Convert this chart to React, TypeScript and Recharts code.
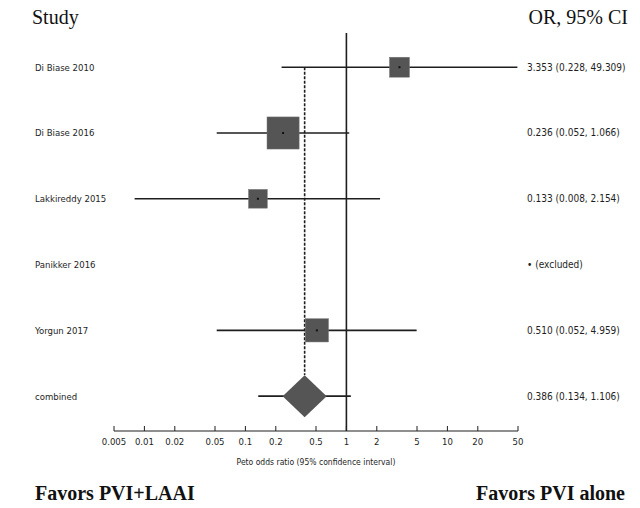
import React from 'react';
import { ComposedChart, Scatter, XAxis, YAxis, ReferenceLine } from 'recharts';

const studies = ['Di Biase 2010', 'Di Biase 2016', 'Lakkireddy 2015', 'Panikker 2016', 'Yorgun 2017', 'combined'];
const oddsRatios = [3.353, 0.236, 0.133, null, 0.51, 0.386];
const ciLow = [0.228, 0.052, 0.008, null, 0.052, 0.134];
const ciHigh = [49.309, 1.066, 2.154, null, 4.959, 1.106];
const weights = [17, 44, 15, null, 23, 100];
const xTicks = [0.005, 0.01, 0.02, 0.05, 0.1, 0.2, 0.5, 1, 2, 5, 10, 20, 50];

const pooled = oddsRatios[5] as number;
const rows = studies.map((s, i) => i);

const data = studies
  .map((name, i) => ({ name, x: oddsRatios[i], y: i, w: weights[i], pooled: i === 5 }))
  .filter((d) => d.x !== null);

const orText = studies.map((s, i) =>
  oddsRatios[i] === null
    ? '\u2022 (excluded)'
    : `${(oddsRatios[i] as number).toFixed(3)} (${(ciLow[i] as number).toFixed(3)}, ${(ciHigh[i] as number).toFixed(3)})`
);

const small = '"DejaVu Sans Condensed", "DejaVu Sans", sans-serif';
const serif = '"Liberation Serif", "Times New Roman", serif';
const ink = '#1e1e1e';
const fill = '#555';

const Marker = (props: any) => {
  const { cx, cy, payload } = props;
  if (payload.pooled) {
    const hw = 22;
    const hh = 21;
    return (
      <path d={`M${cx - hw},${cy} L${cx},${cy - hh} L${cx + hw},${cy} L${cx},${cy + hh} Z`} fill={fill} />
    );
  }
  const side = Math.sqrt(payload.w) * 4.84;
  return (
    <g>
      <rect x={cx - side / 2} y={cy - side / 2} width={side} height={side} fill={fill} stroke="#777" strokeWidth={0.5} />
      <rect x={cx - 1} y={cy - 1} width={2} height={2} fill="#111" />
    </g>
  );
};

// study name on the left, OR text on the right, same row
const RowTick = (props: any) => {
  const { y, payload } = props;
  return (
    <g>
      <text x={35} y={y} dy={3.5} fontFamily={small} fontSize={9.5} fill={ink} textAnchor="start">
        {studies[payload.value]}
      </text>
      <text x={527} y={y} dy={3.5} fontFamily={small} fontSize={10} fill={ink} textAnchor="start">
        {orText[payload.value]}
      </text>
    </g>
  );
};

const XTick = (props: any) => {
  const { x, y, payload } = props;
  return (
    <g>
      <line x1={x} x2={x} y1={y - 5} y2={y} stroke={ink} strokeWidth={1} />
      <text x={x} y={y + 14} fontFamily={small} fontSize={9.5} fill={ink} textAnchor="middle">
        {payload.value}
      </text>
    </g>
  );
};

const App: React.FC = () => {
  return (
    <div style={{ position: 'absolute', left: 0, top: 0, width: 640, height: 508, background: '#fff' }}>
      <ComposedChart width={640} height={508} margin={{ top: 33, right: 122, bottom: 47, left: 14 }}>
        <XAxis
          type="number"
          dataKey="x"
          scale="log"
          domain={[0.005, 50]}
          ticks={xTicks}
          interval={0}
          allowDataOverflow
          height={30}
          tickSize={0}
          tickMargin={0}
          tickLine={false}
          axisLine={{ stroke: ink, strokeWidth: 1 }}
          tick={<XTick />}
        />
        <YAxis
          yAxisId="l"
          type="number"
          dataKey="y"
          domain={[-0.52, 5.53]}
          reversed
          ticks={rows}
          interval={0}
          width={100}
          axisLine={false}
          tickLine={false}
          tick={<RowTick />}
        />
        <Scatter yAxisId="l" data={data} dataKey="y" shape={<Marker />} isAnimationActive={false} />
        {rows
          .filter((i) => ciLow[i] !== null)
          .map((i) => (
            <ReferenceLine
              key={studies[i]}
              yAxisId="l"
              segment={[
                { x: ciLow[i] as number, y: i },
                { x: ciHigh[i] as number, y: i },
              ]}
              stroke={ink}
              strokeWidth={1.6}
            />
          ))}
        <ReferenceLine yAxisId="l" x={1} stroke={ink} strokeWidth={1.6} />
        <ReferenceLine
          yAxisId="l"
          segment={[
            { x: pooled, y: 0 },
            { x: pooled, y: 4.68 },
          ]}
          stroke={ink}
          strokeWidth={1.6}
          strokeDasharray="3 1.5"
        />
      </ComposedChart>
      <div style={{ position: 'absolute', left: 32, top: 6, fontFamily: serif, fontSize: 20, color: '#111' }}>Study</div>
      <div style={{ position: 'absolute', right: 12, top: 6, fontFamily: serif, fontSize: 20, color: '#111' }}>OR, 95% CI</div>
      <div
        style={{ position: 'absolute', left: 114, width: 404, top: 457, textAlign: 'center', fontFamily: small, fontSize: 8.5, color: ink }}
      >
        Peto odds ratio (95% confidence interval)
      </div>
      <div style={{ position: 'absolute', left: 35, top: 482, fontFamily: serif, fontWeight: 'bold', fontSize: 20, color: '#111' }}>
        Favors PVI+LAAI
      </div>
      <div style={{ position: 'absolute', right: 15, top: 482, fontFamily: serif, fontWeight: 'bold', fontSize: 20, color: '#111' }}>
        Favors PVI alone
      </div>
    </div>
  );
};

export default App;
